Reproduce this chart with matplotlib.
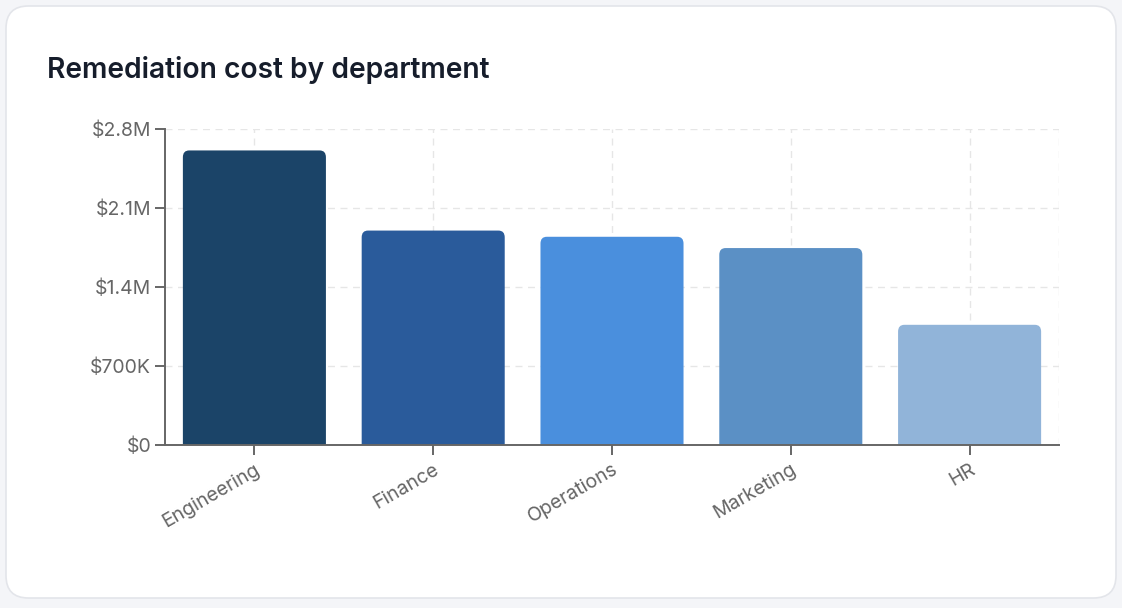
import matplotlib
matplotlib.use("Agg")
import matplotlib.pyplot as plt
from matplotlib.patches import FancyBboxPatch
from matplotlib.ticker import FuncFormatter

departments = ["Engineering", "Finance", "Operations", "Marketing", "HR"]
costs = [2610000, 1900000, 1845000, 1745000, 1065000]
colors = ["#1b4468", "#2a5b9b", "#4a8fdd", "#5b90c5", "#91b4d9"]
y_ticks = [0, 700000, 1400000, 2100000, 2800000]
y_tick_labels = ["$0", "$700K", "$1.4M", "$2.1M", "$2.8M"]

W, H = 1122, 608
fig = plt.figure(figsize=(W / 100, H / 100), dpi=100)
fig.patch.set_facecolor("#f4f5f8")

# card
card = FancyBboxPatch((6 / W, 10 / H), 1110 / W, 592 / H,
                      boxstyle="round,pad=0,rounding_size=0.02",
                      transform=fig.transFigure, facecolor="white",
                      edgecolor="#e3e5ea", linewidth=1.2, mutation_aspect=W / H,
                      zorder=-10)
fig.patches.append(card)

fig.text(47 / W, 1 - 70 / H, "Remediation cost by department", fontsize=20.3,
         fontweight="semibold", color="#161d2b", family="Inter", va="center", ha="left")

ax = fig.add_axes([165 / W, 1 - 445 / H, (1059 - 165) / W, (445 - 129) / H])
ax.set_facecolor("none")
ax.set_xlim(-0.5, len(departments) - 0.5)
ax.set_ylim(0, 2800000)

bw = 0.8
x = list(range(len(departments)))
bars = ax.bar(x, costs, width=bw, color=colors, zorder=3)
# rounded top corners (bottom corners pushed below the axis and clipped)
r_y = 60000
for b, c in zip(bars, colors):
    b.set_visible(False)
    x0, w, h = b.get_x(), b.get_width(), b.get_height()
    p = FancyBboxPatch((x0, -3 * r_y), w, h + 3 * r_y,
                       boxstyle="round,pad=0,rounding_size=0.035",
                       mutation_aspect=r_y / 0.035, facecolor=c, edgecolor="none",
                       zorder=3)
    ax.add_patch(p)
    p.set_clip_path(ax.patch)

ax.set_yticks(y_ticks)
ax.yaxis.set_major_formatter(FuncFormatter(lambda v, p: y_tick_labels[y_ticks.index(v)] if v in y_ticks else ""))
ax.set_xticks(x)
ax.set_xticklabels(departments, rotation=30, ha="right", rotation_mode="anchor")

ax.grid(True, color="#e6e6e6", linestyle=(0, (5, 4)), linewidth=1, zorder=0)
for s in ["top", "right"]:
    ax.spines[s].set_visible(False)
for s in ["left", "bottom"]:
    ax.spines[s].set_color("#666666")
    ax.spines[s].set_linewidth(1.4)
    ax.spines[s].set_zorder(4)
ax.axvline(len(departments) - 0.5, color="#e6e6e6", linestyle=(0, (5, 4)), linewidth=1, zorder=0)

ax.tick_params(axis="both", colors="#666666", labelcolor="#666666", length=7, width=1.4,
               labelsize=14)
ax.tick_params(axis="y", pad=3)
ax.tick_params(axis="x", pad=4)
for lbl in ax.get_xticklabels() + ax.get_yticklabels():
    lbl.set_family("Inter")
    lbl.set_fontweight("normal")

fig.savefig("out.png", dpi=100, facecolor=fig.get_facecolor())
